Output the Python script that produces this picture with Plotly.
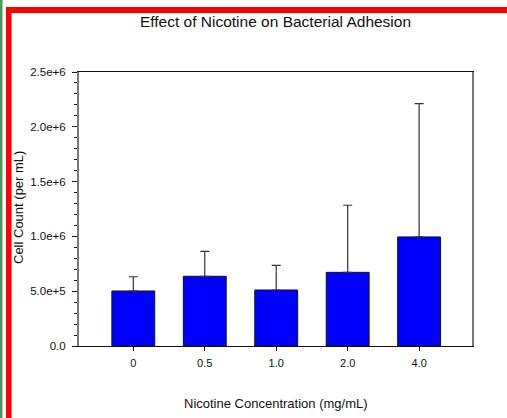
import plotly.graph_objects as go

categories = ["0", "0.5", "1.0", "2.0", "4.0"]
cell_counts = [5.02e5, 6.36e5, 5.11e5, 6.72e5, 9.95e5]
error_plus = [1.30e5, 2.28e5, 2.25e5, 6.12e5, 1.216e6]
error_minus = [0, 0, 0, 0, 0]
y_tick_vals = [0, 5e5, 1e6, 1.5e6, 2e6, 2.5e6]
y_tick_text = ["0.0", "5.0e+5", "1.0e+6", "1.5e+6", "2.0e+6", "2.5e+6"]

W, H = 507, 418
L, R, T, B = 79, 35, 72, 72
PW, PH = W - L - R, H - T - B

def px(x):
    return (x - L) / PW

def py(y):
    return (H - B - y) / PH

FONT = "Liberation Sans, Arial, sans-serif"

fig = go.Figure()
fig.add_trace(go.Bar(
    x=list(range(len(categories))),
    y=cell_counts,
    width=0.6,
    marker=dict(color="#0000FF", line=dict(color="#111111", width=1)),
    error_y=dict(type="data", symmetric=False, array=error_plus,
                 arrayminus=error_minus, color="#333333", thickness=1.2, width=4.5),
))

shapes = [
    dict(type="rect", xref="paper", yref="paper", x0=px(0), x1=px(2.5), y0=py(0), y1=py(H),
         fillcolor="#4a9a5a", line=dict(width=0), layer="above"),
    dict(type="rect", xref="paper", yref="paper", x0=px(6), x1=px(W), y0=py(7), y1=py(13),
         fillcolor="#FF0000", line=dict(width=0), layer="above"),
    dict(type="rect", xref="paper", yref="paper", x0=px(6), x1=px(11.5), y0=py(7), y1=py(H),
         fillcolor="#FF0000", line=dict(width=0), layer="above"),
]

annotations = [
    dict(text="Nicotine Concentration (mg/mL)", xref="paper", yref="paper",
         x=0.5, y=py(403), xanchor="center", yanchor="middle", showarrow=False,
         font=dict(family=FONT, size=13, color="#111111")),
    dict(text="Cell Count (per mL)", xref="paper", yref="paper",
         x=px(18), y=py(208), xanchor="center", yanchor="middle", showarrow=False,
         textangle=-90, font=dict(family=FONT, size=13, color="#111111")),
]

fig.update_layout(
    width=W, height=H,
    margin=dict(l=L, r=R, t=T, b=B, pad=0),
    paper_bgcolor="white", plot_bgcolor="white",
    showlegend=False,
    font=dict(family=FONT, size=11, color="#111111"),
    title=dict(text="Effect of Nicotine on Bacterial Adhesion", x=0.5, xref="paper",
               y=1 - 22 / H, yref="container", xanchor="center", yanchor="middle",
               font=dict(family=FONT, size=15.5, color="#111111")),
    shapes=shapes,
    annotations=annotations,
)

fig.update_xaxes(
    range=[-0.76, 4.74],
    tickmode="array", tickvals=list(range(len(categories))), ticktext=categories,
    ticks="outside", ticklen=4, tickcolor="#111111", tickwidth=1,
    showline=True, linecolor="#111111", linewidth=1.3, mirror=True,
    showgrid=False, zeroline=False, ticklabelstandoff=3,
    tickfont=dict(family=FONT, size=11, color="#111111"),
)
fig.update_yaxes(
    range=[0, 2.5e6],
    tickmode="array", tickvals=y_tick_vals, ticktext=y_tick_text,
    ticks="outside", ticklen=5, tickcolor="#111111", tickwidth=1,
    minor=dict(ticks="outside", ticklen=3, tickcolor="#111111", dtick=1e5, showgrid=False),
    showline=True, linecolor="#777777", linewidth=2, mirror=True,
    showgrid=False, zeroline=False, ticklabelstandoff=4,
    tickfont=dict(family=FONT, size=11.5, color="#111111"),
)

fig.write_html("out.html")
